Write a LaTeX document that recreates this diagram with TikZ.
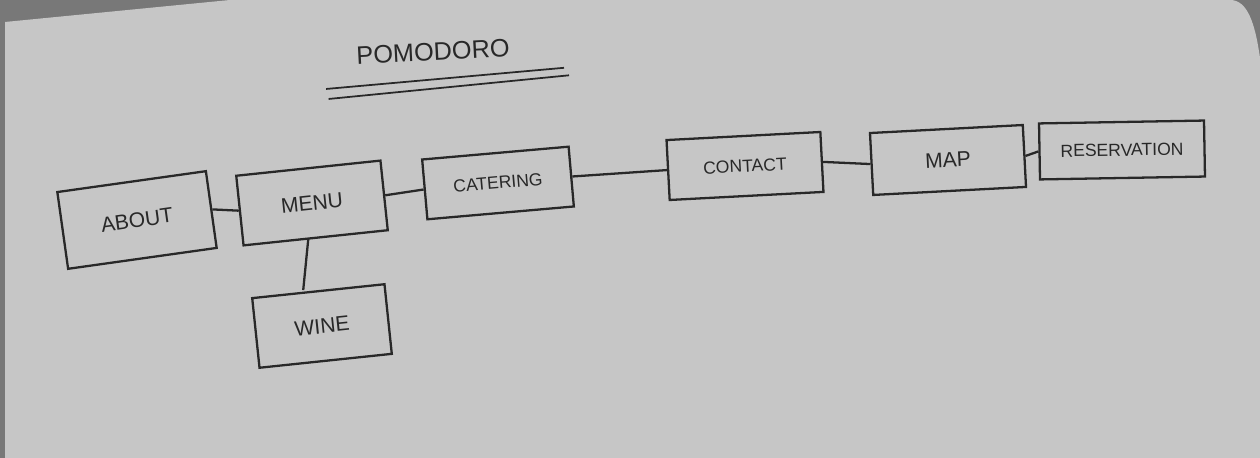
\documentclass[tikz,border=0pt]{standalone}
\usepackage{fontspec}
\setmainfont{Liberation Sans}
\usetikzlibrary{positioning}
\definecolor{paper}{RGB}{198,198,198}
\definecolor{desk}{RGB}{120,120,120}
\definecolor{pencil}{RGB}{40,40,40}

\begin{document}
\begin{tikzpicture}[
  box/.style={draw=pencil, line width=1.3pt, text=pencil, font=\large,
              minimum width=3cm, minimum height=1.3cm, inner sep=2pt},
  link/.style={draw=pencil, line width=1.3pt}]
  \useasboundingbox (0,0) rectangle (25.2,9.16);
  % paper
  \fill[desk] (0,0) rectangle (25.2,9.16);
  \fill[paper] (0.1,0) -- (0.1,8.72) -- (4.6,9.16) -- (24.6,9.16)
    .. controls (24.95,9.16) and (25.1,8.7) .. (25.2,8.0) -- (25.2,0) -- cycle;

  % title
  \node[text=pencil, font=\Large, rotate=3] (title) at (8.66,8.12) {POMODORO};
  \draw[link, line width=1pt] ([xshift=-0.5cm, yshift=-0.35cm]title.south west) -- ([xshift=0.95cm, yshift=-0.1cm]title.south east);
  \draw[link, line width=1pt] ([xshift=-0.45cm, yshift=-0.55cm]title.south west) -- ([xshift=1.05cm, yshift=-0.25cm]title.south east);

  % pages
  \node[box, rotate=8, minimum height=1.55cm] (about) at (2.74,4.76) {ABOUT};
  \node[box, rotate=6, minimum width=2.9cm, minimum height=1.4cm] (menu) at (6.24,5.10) {MENU};
  \node[box, rotate=5, minimum width=2.94cm, minimum height=1.2cm, font=\normalsize] (catering) at (9.96,5.50) {CATERING};
  \node[box, rotate=3, minimum width=3.08cm, minimum height=1.2cm, font=\normalsize] (contact) at (14.90,5.84) {CONTACT};
  \node[box, rotate=3, minimum width=3.06cm, minimum height=1.24cm] (map) at (18.96,5.96) {MAP};
  \node[box, rotate=1, minimum width=3.3cm, minimum height=1.12cm, font=\normalsize] (reservation) at (22.44,6.16) {RESERVATION};
  \node[box, rotate=6, minimum width=2.66cm, minimum height=1.4cm] (wine) at (6.44,2.64) {WINE};

  % links
  \draw[link] (about.east) -- (menu.west);
  \draw[link] (menu.east) -- (catering.west);
  \draw[link] (catering.east) -- (contact.west);
  \draw[link] (contact.east) -- (map.west);
  \draw[link] (map.east) -- (reservation.west);
  \draw[link] ([xshift=-0.15cm]menu.south) -- ([xshift=-0.3cm]wine.north);
\end{tikzpicture}
\end{document}
